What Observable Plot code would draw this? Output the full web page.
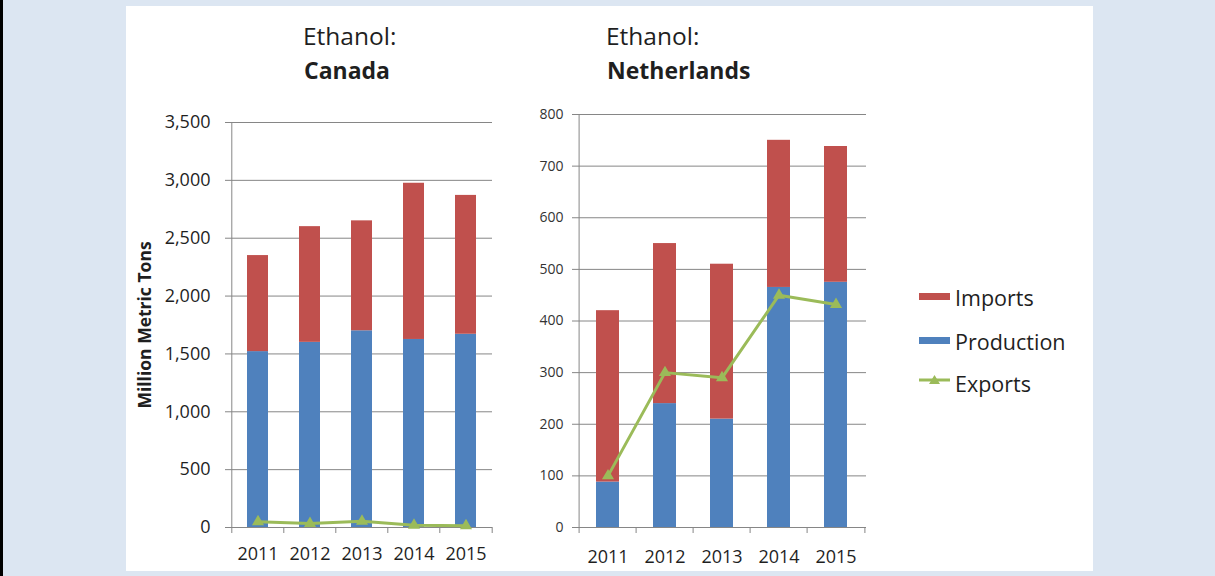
<!DOCTYPE html>
<html><head><meta charset="utf-8">
<script src="https://cdn.jsdelivr.net/npm/d3@7"></script>
<script src="https://cdn.jsdelivr.net/npm/@observablehq/plot@0.6"></script>
<style>
body{margin:0;width:1215px;height:576px;background:#dce6f2;position:relative;overflow:hidden;font-family:"Open Sans",sans-serif;color:#1f1f1f}
#leftbar{position:absolute;left:0;top:0;width:3px;height:576px;background:#000}
#panel{position:absolute;left:126px;top:6px;width:967px;height:565px;background:#fff}
.t{position:absolute;line-height:35px;white-space:nowrap}
.t1{font-size:24.5px}
.t2{font-size:23px;font-weight:bold}
.chart{position:absolute;top:100px}
.lg{position:absolute;font-size:21.5px;line-height:42px;white-space:nowrap;color:#1f1f1f}
.sw{position:absolute}
</style></head>
<body>
<div id="leftbar"></div>
<div id="panel"></div>
<div class="t t1" style="left:303px;top:18px">Ethanol:</div>
<div class="t t2" style="left:304px;top:53px">Canada</div>
<div class="t t1" style="left:606px;top:18px">Ethanol:</div>
<div class="t t2" style="left:607px;top:53px">Netherlands</div>
<div id="c1" class="chart" style="left:126px"></div>
<div id="c2" class="chart" style="left:510px"></div>
<div id="legend"></div>
<script>
const years = ["2011", "2012", "2013", "2014", "2015"];
const canadaProduction = [1520, 1600, 1700, 1625, 1670];
const canadaImports = [830, 1000, 950, 1350, 1200];
const canadaExports = [50, 35, 55, 20, 15];
const nlProduction = [88, 240, 210, 465, 475];
const nlImports = [332, 310, 300, 285, 263];
const nlExports = [100, 300, 290, 450, 432];
const seriesNames = ["Imports", "Production", "Exports"];
const seriesColors = ["#c0504d", "#4f81bd", "#9bbb59"];
const canadaTicks = [0, 500, 1000, 1500, 2000, 2500, 3000, 3500];
const nlTicks = [0, 100, 200, 300, 400, 500, 600, 700, 800];
const yLabel = "Million Metric Tons";

const axisGray = "#868686";

function chart(o) {
  const rows = [];
  years.forEach((yr, i) => rows.push({year: yr, series: "Production", value: o.prod[i]}));
  years.forEach((yr, i) => rows.push({year: yr, series: "Imports", value: o.imp[i]}));
  const ex = years.map((yr, i) => ({year: yr, value: o.exp[i]}));
  const step = (o.width - o.ml - o.mr) / years.length;
  const marks = [
    Plot.gridY(o.ticks, {stroke: axisGray, strokeOpacity: 1}),
    Plot.barY(rows, {x: "year", y: "value", fill: "series"}),
    Plot.line(ex, {x: "year", y: "value", stroke: seriesColors[2], strokeWidth: 3}),
    Plot.dot(ex, {x: "year", y: "value", symbol: "triangle", fill: seriesColors[2], r: 4.5}),
    Plot.ruleX(years.slice(0, 1), {dx: -step / 2, stroke: axisGray}),
    Plot.ruleX(years, {y1: 0, y2: 0, insetBottom: -6, dx: -step / 2, stroke: axisGray}),
    Plot.ruleX(years.slice(-1), {y1: 0, y2: 0, insetBottom: -6, dx: step / 2, stroke: axisGray}),
    Plot.axisY(o.ticks, {label: null, tickSize: 5, tickPadding: o.yPad, tickFormat: o.fmt, fontSize: o.yFont, stroke: axisGray, fill: o.yColor}),
    Plot.axisX({label: null, tickSize: 0, tickPadding: o.xPad, fontSize: 18, fill: "#1f1f1f"})
  ];
  if (o.label) marks.push(Plot.text([o.label], {text: d => d, frameAnchor: "left", textAnchor: "middle", rotate: -90, dx: -85, fontSize: 17.5, fontWeight: "bold", fill: "#1f1f1f"}));
  return Plot.plot({
    width: o.width, height: o.height,
    marginLeft: o.ml, marginRight: o.mr, marginTop: o.mt, marginBottom: o.mb,
    style: {fontFamily: "Open Sans", background: "transparent", overflow: "visible"},
    x: {domain: years, paddingInner: 0.6, paddingOuter: 0.3, axis: null},
    y: {domain: [0, o.yMax], axis: null},
    color: {domain: seriesNames.slice(0, 2), range: seriesColors.slice(0, 2)},
    marks
  });
}

document.getElementById("c1").append(chart({
  prod: canadaProduction, imp: canadaImports, exp: canadaExports,
  ticks: canadaTicks, yMax: 3500, fmt: d3.format(","), yFont: 18, yPad: 15, yColor: "#1f1f1f",
  width: 380, height: 470, ml: 104, mr: 14, mt: 22, mb: 43, xPad: 20, label: yLabel
}));
document.getElementById("c2").append(chart({
  prod: nlProduction, imp: nlImports, exp: nlExports,
  ticks: nlTicks, yMax: 800, fmt: d3.format("d"), yFont: 14, yPad: 9, yColor: "#333",
  width: 370, height: 470, ml: 67, mr: 14, mt: 14, mb: 43, xPad: 23
}));

// legend
const lg = document.getElementById("legend");
const baselines = [306, 350, 392];
seriesNames.forEach((name, i) => {
  const t = document.createElement("div");
  t.className = "lg";
  t.textContent = name;
  t.style.left = "955px";
  t.style.top = (baselines[i] - 29.3) + "px";
  lg.append(t);
  const s = document.createElementNS("http://www.w3.org/2000/svg", "svg");
  s.setAttribute("class", "sw");
  s.setAttribute("width", 32); s.setAttribute("height", 14);
  s.style.left = "919px";
  s.style.top = (baselines[i] - 19) + "px";
  if (i < 2) {
    s.innerHTML = `<rect x="0" y="6" width="31" height="7" fill="${seriesColors[i]}"/>`;
  } else {
    s.innerHTML = `<line x1="0" x2="31" y1="7" y2="7" stroke="${seriesColors[i]}" stroke-width="3"/><path d="M15.5,2 L21,11 L10,11 Z" fill="${seriesColors[i]}"/>`;
  }
  lg.append(s);
});
</script>
</body></html>
